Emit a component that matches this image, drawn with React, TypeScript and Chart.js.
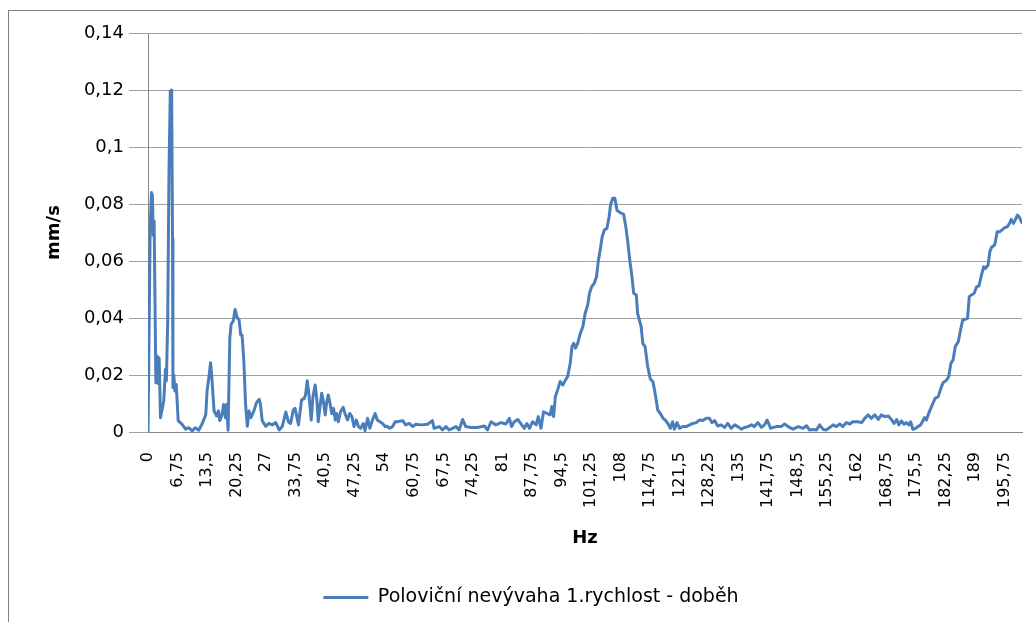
import React, { useEffect, useRef } from "react";
import { Chart, registerables } from "chart.js";

Chart.register(...registerables);

const seriesLabel = "Poloviční nevývaha 1.rychlost - doběh";
const xAxisTitle = "Hz";
const yAxisTitle = "mm/s";

const xTickValues = [
  0, 6.75, 13.5, 20.25, 27, 33.75, 40.5, 47.25, 54, 60.75, 67.5, 74.25, 81, 87.75, 94.5,
  101.25, 108, 114.75, 121.5, 128.25, 135, 141.75, 148.5, 155.25, 162, 168.75, 175.5, 182.25, 189, 195.75,
];
const yTickValues = [0, 0.02, 0.04, 0.06, 0.08, 0.1, 0.12, 0.14];

const hz = [
  0, 0.5, 0.8, 1.0, 1.2, 1.4, 1.8, 2.1, 2.3, 2.55, 2.85, 3.3, 3.6, 4.0, 4.2, 4.5, 4.8, 5.1, 5.4, 5.6, 5.7, 5.9,
  6.15, 6.45, 6.9, 7.8, 8.6, 9.3, 10.1, 10.8, 11.6, 12.4, 13.2, 13.5, 13.9, 14.3, 14.6, 15.1, 15.7, 16.1, 16.4,
  16.9, 17.3, 17.7, 18.0, 18.3, 18.7, 19.0, 19.5, 19.9, 20.4, 20.8, 21.2, 21.5, 21.9, 22.3, 22.7, 23.1, 23.5,
  23.8, 24.2, 24.8, 25.4, 25.7, 26.1, 26.9,
  27.6, 28.4, 29.2, 30.0, 30.7, 31.5, 32.1, 32.6, 33.2, 33.6, 34.0, 34.4, 34.7, 35.1, 35.7, 36.0, 36.4, 36.8,
  37.3, 37.7, 38.2, 38.6, 38.9, 39.4, 39.7, 40.1, 40.5, 40.8, 41.2, 41.6, 42.0, 42.4, 42.8, 43.1, 43.5, 44.0,
  44.6, 45.0, 45.6, 46.1, 46.6, 47.1, 47.6, 48.1, 48.6, 49.2, 49.6, 50.2, 50.7, 51.3, 51.9, 52.4, 53.0, 53.6,
  54.2, 54.7, 55.2, 55.9, 56.5,
  57.0, 58.2, 58.9, 59.7, 60.5, 61.2, 62.4, 63.9, 65.0, 65.4, 66.6, 67.3, 68.1, 68.8, 69.6, 70.4, 71.1, 71.9,
  72.6, 73.8, 75.3, 76.9, 77.6, 78.4, 79.5, 80.7, 81.8, 82.6, 83.1, 83.7, 84.5,
  86.0, 86.6, 87.2, 87.9, 88.7, 89.2, 89.8, 90.4, 91.2, 91.9, 92.3, 92.7, 93.1, 93.6, 94.2, 94.8, 95.4, 95.9,
  96.5, 96.9, 97.3, 97.7, 98.2, 98.8, 99.4, 99.9, 100.5, 100.9, 101.4, 102.0, 102.5, 102.9, 103.4, 103.8,
  104.3, 104.9, 105.4, 105.7, 106.2, 106.7, 107.2, 107.9, 108.7, 109.2, 109.6, 110.1, 110.6, 111.0, 111.6, 111.9,
  112.7, 113.1, 113.6, 114.2, 114.8, 115.4, 115.9, 116.5, 117.1, 117.7, 118.2, 118.8, 119.4, 119.9, 120.3,
  120.9, 121.5, 122.2, 123.0, 123.8, 124.5, 125.3, 126.0, 126.8, 127.6, 128.3, 128.9, 129.5, 130.2, 131.0,
  131.8, 132.5, 133.3, 134.1, 134.8, 135.6, 136.4, 137.1, 137.9, 138.6, 139.4, 140.2, 140.9, 141.5, 142.3,
  143.6, 144.7, 145.5, 146.3, 147.4, 148.6, 149.7, 150.5, 151.2, 152.0, 152.8, 153.5, 154.3, 155.0, 155.8,
  156.6, 157.3, 158.1, 158.8, 159.6, 160.4, 161.1, 162.3, 163.1, 163.8, 164.6, 165.3, 166.1, 166.9, 167.6,
  168.4, 169.2, 169.9,
  170.5, 171.1, 171.6, 172.2, 172.8, 173.3, 173.9, 174.3, 174.8, 175.4, 176.0, 176.6, 177.2, 177.5, 177.9,
  178.3, 178.9, 179.4, 179.9, 180.6, 181.2, 181.7, 182.5, 183.0, 183.5, 184.0, 184.5, 185.2, 185.7, 186.2,
  186.7, 187.3, 187.7, 188.2, 188.8, 189.4, 189.9, 190.5, 191.0, 191.4, 192.0, 192.4, 192.8, 193.5, 194.1,
  194.7, 195.2, 195.8, 196.4, 196.9, 197.3, 197.8, 198.2, 198.7, 199.1, 199.6, 199.75,
];

const mms = [
  0, 0.072, 0.084, 0.083, 0.069, 0.074, 0.0173, 0.0267, 0.017, 0.026, 0.005, 0.0085, 0.011, 0.022, 0.018, 0.039,
  0.0916, 0.1196, 0.12, 0.068, 0.0156, 0.02, 0.0144, 0.0167, 0.004, 0.0027, 0.001, 0.0015, 0.0004, 0.0015,
  0.0006, 0.003, 0.006, 0.0144, 0.019, 0.0243, 0.019, 0.0074, 0.0056, 0.0074, 0.004, 0.006, 0.0097, 0.005,
  0.0097, 0.0006, 0.033, 0.0378, 0.039, 0.043, 0.04, 0.0395, 0.034, 0.034, 0.025, 0.0097, 0.002, 0.0074, 0.005,
  0.006, 0.0074, 0.0103, 0.0115, 0.0097, 0.004, 0.002,
  0.003, 0.0025, 0.0033, 0.0007, 0.002, 0.007, 0.0036, 0.003, 0.0077, 0.0083, 0.0054, 0.0025, 0.0065, 0.0112,
  0.0118, 0.013, 0.018, 0.013, 0.0042, 0.0124, 0.0165, 0.0112, 0.0036, 0.01, 0.0136, 0.0106, 0.006, 0.01, 0.013,
  0.01, 0.0065, 0.0083, 0.0042, 0.0065, 0.0036, 0.0071, 0.0087, 0.0065, 0.0042, 0.0065, 0.0054, 0.0019, 0.0042,
  0.0019, 0.0013, 0.003, 0.0005, 0.0048, 0.0013, 0.0042, 0.0065, 0.0042, 0.0036, 0.003, 0.0019, 0.002, 0.0013,
  0.0019, 0.0036,
  0.0036, 0.004, 0.0025, 0.003, 0.0019, 0.0027, 0.0025, 0.0027, 0.004, 0.0013, 0.0019, 0.0007, 0.0019, 0.0007,
  0.0013, 0.0019, 0.0007, 0.0044, 0.0019, 0.0016, 0.0016, 0.0021, 0.0007, 0.0036, 0.0025, 0.0033, 0.0028,
  0.0048, 0.0019, 0.0036, 0.0044,
  0.0013, 0.003, 0.0013, 0.0036, 0.0025, 0.0054, 0.0013, 0.0071, 0.0065, 0.006, 0.0089, 0.0054, 0.0124, 0.0147,
  0.0177, 0.0165, 0.0182, 0.0194, 0.0241, 0.03, 0.0311, 0.0294, 0.0311, 0.0346, 0.037, 0.0416, 0.0446, 0.0487,
  0.051, 0.0522, 0.0545, 0.0598, 0.0644, 0.0685, 0.0709, 0.0715, 0.0756, 0.0796, 0.082, 0.082, 0.0777, 0.077,
  0.0764, 0.072, 0.0674, 0.0604, 0.0545, 0.0487, 0.0481, 0.0416,
  0.037, 0.031, 0.03, 0.023, 0.0186, 0.0177, 0.0136, 0.0077, 0.0065, 0.0048, 0.0042, 0.003, 0.0013, 0.0036,
  0.001, 0.0033, 0.0013, 0.0019, 0.0019, 0.0025, 0.003, 0.0033, 0.0042, 0.004, 0.0048, 0.0048, 0.0033, 0.004,
  0.0021, 0.0025, 0.0016, 0.003, 0.0013, 0.0025, 0.0019, 0.001, 0.0016, 0.0019, 0.0025, 0.0019, 0.0033, 0.0016,
  0.0025, 0.0042, 0.0013,
  0.0019, 0.0019, 0.0028, 0.0019, 0.001, 0.0019, 0.0013, 0.0022, 0.0007, 0.0009, 0.0007, 0.0025, 0.0009, 0.0007,
  0.0016, 0.0025, 0.0019, 0.0028, 0.0019, 0.0033, 0.0028, 0.0036, 0.0036, 0.0033, 0.0048, 0.006, 0.0048, 0.006,
  0.0044, 0.006, 0.0054, 0.0056, 0.0044,
  0.003, 0.0044, 0.0025, 0.0039, 0.0027, 0.0033, 0.0025, 0.0036, 0.0009, 0.0013, 0.0019, 0.0025, 0.0042, 0.0051,
  0.0042, 0.006, 0.0083, 0.0101, 0.0118, 0.0124, 0.0153, 0.0173, 0.0182, 0.0194, 0.0241, 0.0253, 0.03, 0.0317,
  0.0358, 0.0393, 0.0395, 0.0399, 0.0475, 0.0481, 0.0487, 0.051, 0.0512, 0.0551, 0.058, 0.0574, 0.0586, 0.0633,
  0.0648, 0.0656, 0.0703, 0.0703, 0.0709, 0.0717, 0.072, 0.0732, 0.0746, 0.0732, 0.0744, 0.0761, 0.0755, 0.0738,
  0.0735,
];

const FONT = "'DejaVu Sans', 'Liberation Sans', sans-serif";
const fmt = (v: number) => String(Number(Number(v).toFixed(4))).replace(".", ",");

export default function App() {
  const canvasRef = useRef<HTMLCanvasElement | null>(null);

  useEffect(() => {
    const canvas = canvasRef.current;
    if (!canvas) return;
    const points = hz.map((x, i) => ({ x, y: mms[i] }));
    const chart = new Chart(canvas, {
      type: "line",
      data: {
        datasets: [
          {
            label: seriesLabel,
            data: points,
            borderColor: "#4a7ebb",
            backgroundColor: "#4a7ebb",
            borderWidth: 3,
            pointRadius: 0,
            tension: 0,
            borderJoinStyle: "round",
            borderCapStyle: "round",
          },
        ],
      },
      options: {
        responsive: false,
        animation: false,
        events: [],
        layout: { padding: { left: 40, right: 14, top: 33, bottom: 5 } },
        plugins: {
          legend: {
            position: "bottom",
            labels: {
              usePointStyle: true,
              pointStyle: "line",
              pointStyleWidth: 45,
              color: "#000",
              padding: 10,
              font: { family: FONT, size: 19 },
            },
          },
          tooltip: { enabled: false },
        },
        scales: {
          x: {
            type: "linear",
            min: 0,
            max: 199.75,
            afterBuildTicks: (s: any) => {
              s.ticks = xTickValues.map((v) => ({ value: v }));
            },
            afterFit: (s: any) => {
              s.height = 146;
            },
            ticks: {
              autoSkip: false,
              minRotation: 90,
              maxRotation: 90,
              padding: 3,
              color: "#000",
              font: { family: FONT, size: 16 },
              callback: (v: any) => fmt(v),
            },
            grid: { display: false, drawTicks: true, tickLength: 17 },
            border: { display: true, color: "#868686", width: 1 },
            title: {
              display: true,
              text: xAxisTitle,
              color: "#000",
              font: { family: FONT, size: 18, weight: "bold" },
              padding: { top: 0, bottom: 29 },
            },
          },
          y: {
            min: 0,
            max: 0.14,
            afterBuildTicks: (s: any) => {
              s.ticks = yTickValues.map((v) => ({ value: v }));
            },
            afterFit: (s: any) => {
              s.width = 108;
            },
            ticks: {
              padding: 5,
              color: "#000",
              font: { family: FONT, size: 18 },
              callback: (v: any) => fmt(v),
            },
            grid: { color: "#a0a0a0", lineWidth: 1, tickLength: 19, drawTicks: true },
            border: { display: true, color: "#868686", width: 1 },
            title: {
              display: true,
              text: yAxisTitle,
              color: "#000",
              font: { family: FONT, size: 18, weight: "bold" },
              padding: { top: 4, bottom: 0 },
            },
          },
        },
      },
    } as any);
    return () => chart.destroy();
  }, []);

  return (
    <>
      <div
        style={{
          position: "absolute",
          left: 8,
          top: 10,
          width: 1028,
          height: 612,
          boxSizing: "border-box",
          borderTop: "1px solid #7f7f7f",
          borderLeft: "1px solid #7f7f7f",
          pointerEvents: "none",
        }}
      />
      <canvas
        ref={canvasRef}
        width={1036}
        height={622}
        style={{ position: "absolute", left: 0, top: 0, width: 1036, height: 622 }}
      />
    </>
  );
}
